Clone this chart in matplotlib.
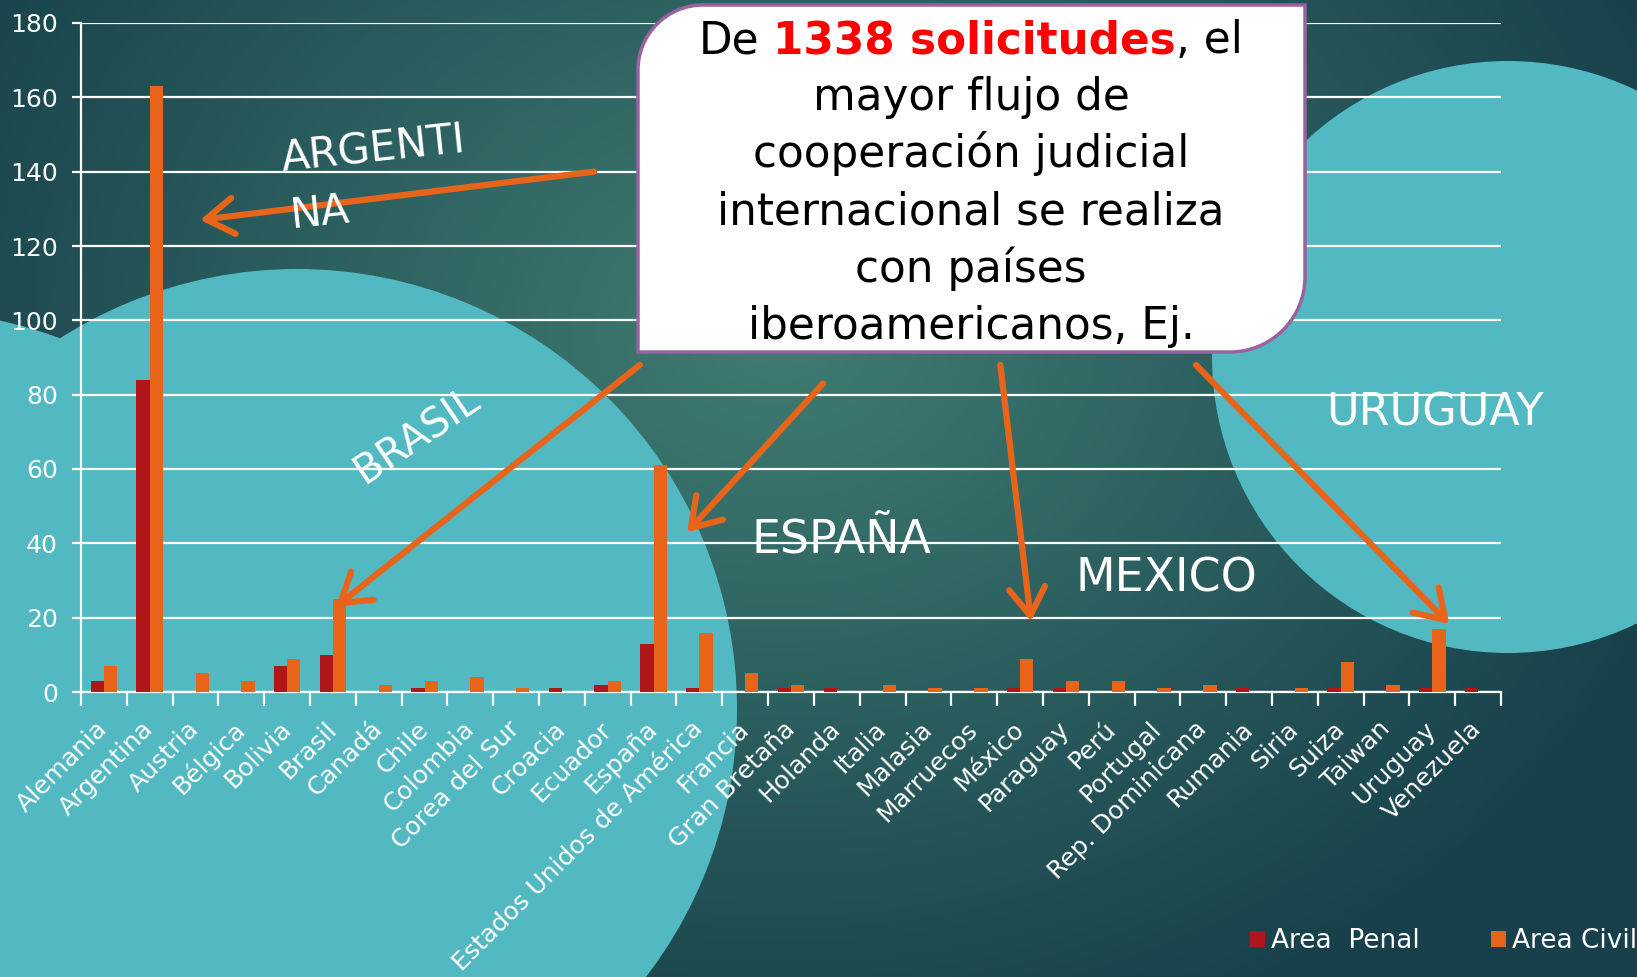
import numpy as np
import matplotlib
matplotlib.use('Agg')
import matplotlib.pyplot as plt
from matplotlib.patches import Circle, PathPatch
from matplotlib.path import Path

# Datos: solicitudes de cooperación judicial por país
paises = ['Alemania', 'Argentina', 'Austria', 'Bélgica', 'Bolivia', 'Brasil', 'Canadá',
          'Chile', 'Colombia', 'Corea del Sur', 'Croacia', 'Ecuador', 'España',
          'Estados Unidos de América', 'Francia', 'Gran Bretaña', 'Holanda', 'Italia',
          'Malasia', 'Marruecos', 'México', 'Paraguay', 'Perú', 'Portugal',
          'Rep. Dominicana', 'Rumania', 'Siria', 'Suiza', 'Taiwan', 'Uruguay', 'Venezuela']
area_penal = [3, 84, 0, 0, 7, 10, 0, 1, 0, 0, 1, 2, 13, 1, 0, 1, 1, 0, 0, 0,
              1, 1, 0, 0, 0, 1, 0, 1, 0, 1, 1]
area_civil = [7, 163, 5, 3, 9, 25, 2, 3, 4, 1, 0, 3, 61, 16, 5, 2, 0, 2, 1, 1,
              9, 3, 3, 1, 2, 0, 1, 8, 2, 17, 0]
marcas_y = list(range(0, 181, 20))

# Flechas: (x destino, y destino, x origen, y origen) en unidades del gráfico
flechas = [(2.1, 127, 10.7, 140), (5.07, 23, 11.7, 88), (12.73, 43, 15.7, 83),
           (20.24, 19, 19.57, 88), (29.37, 18.3, 23.84, 88)]

rojo = '#b01518'
naranja = '#e8641a'
cian = '#52b9c2'
plt.rcParams['font.family'] = ['DejaVu Sans']

W, H = 1637, 977
fig = plt.figure(figsize=(W / 100, H / 100), dpi=100)

# Fondo con degradado y círculos
fondo = fig.add_axes([0, 0, 1, 1], zorder=0)
yy, xx = np.mgrid[0:H, 0:W]
d = np.sqrt((xx - 780) ** 2 + ((yy - 330) / 0.8) ** 2) / 950
t = np.clip(d, 0, 1)[..., None]
claro = np.array([0x40, 0x7d, 0x72]) / 255
oscuro = np.array([0x17, 0x40, 0x4b]) / 255
fondo.imshow(claro * (1 - t) + oscuro * t, extent=(0, W, H, 0), aspect='auto')
for centro, radio in [((297, 709), 440), ((-111, 808), 500), ((1508, 357), 296)]:
    fondo.add_patch(Circle(centro, radio, color=cian, lw=0))
fondo.set_xlim(0, W)
fondo.set_ylim(H, 0)
fondo.axis('off')

# Gráfico de barras
ax = fig.add_axes([81 / W, 1 - 692 / H, (1501 - 81) / W, (692 - 23) / H], zorder=1)
ax.patch.set_alpha(0)
x = np.arange(len(paises))
ax.bar(x - 0.145, area_penal, 0.29, color=rojo, label='Area  Penal', zorder=3)
ax.bar(x + 0.145, area_civil, 0.29, color=naranja, label='Area Civil', zorder=3)
ax.set_xlim(-0.5, len(paises) - 0.5)
ax.set_ylim(0, 180)
ax.set_yticks(marcas_y)
ax.grid(axis='y', color='white', lw=1.6, zorder=2)
ax.set_xticks(np.arange(-0.5, len(paises), 1))
ax.set_xticks(x, minor=True)
ax.set_xticklabels(paises, minor=True, rotation=45, ha='right', va='center',
                   rotation_mode='anchor')
ax.tick_params(axis='x', which='major', length=10, width=1.6, color='white', labelbottom=False)
ax.tick_params(axis='x', which='minor', length=0, pad=24, labelcolor='white', labelsize=18)
ax.tick_params(axis='y', length=6.5, width=1.6, color='white', labelcolor='white',
               labelsize=18, pad=10)
for lado in ['top', 'right']:
    ax.spines[lado].set_visible(False)
for lado in ['left', 'bottom']:
    ax.spines[lado].set_color('white')
    ax.spines[lado].set_linewidth(1.6)

for xd, yd, xo, yo in flechas:
    ax.annotate('', xy=(xd, yd), xytext=(xo, yo),
                arrowprops=dict(arrowstyle='->,head_length=1.0,head_width=0.65', lw=4.5,
                                color=naranja, mutation_scale=20, shrinkA=0, shrinkB=0,
                                capstyle='round', joinstyle='round'), zorder=4)

fig.legend(loc='center left', bbox_to_anchor=(1250 / W, 1 - 941 / H), ncol=2, frameon=False,
           fontsize=19, labelcolor='white', handlelength=0.55, handleheight=0.55,
           handletextpad=0.25, columnspacing=2.7, borderpad=0, borderaxespad=0)

# Capa superior: textos y recuadro
ov = fig.add_axes([0, 0, 1, 1], zorder=5)
ov.set_xlim(0, W)
ov.set_ylim(H, 0)
ov.axis('off')
ov.patch.set_alpha(0)

ov.text(283, 172, 'ARGENTI', rotation=6, rotation_mode='anchor', ha='left', va='baseline',
        color='white', fontsize=30)
ov.text(292, 228, 'NA', rotation=6, rotation_mode='anchor', ha='left', va='baseline',
        color='white', fontsize=30)
ov.text(365, 485, 'BRASIL', rotation=34, rotation_mode='anchor', ha='left', va='baseline',
        color='white', fontsize=29)
ov.text(751, 553, 'ESPAÑA', ha='left', va='baseline', color='white', fontsize=33)
ov.text(1076, 592, 'MEXICO', ha='left', va='baseline', color='white', fontsize=33)
ov.text(1326, 425, 'URUGUAY', ha='left', va='baseline', color='white', fontsize=32)

# Recuadro con esquinas redondeadas en diagonal
izq, arr, der, aba, r1, r2 = 638, 5, 1305, 352, 65, 75
k = 0.5523
verts = [(izq, aba), (izq, arr + r1),
         (izq, arr + r1 * (1 - k)), (izq + r1 * (1 - k), arr), (izq + r1, arr),
         (der, arr), (der, aba - r2),
         (der, aba - r2 * (1 - k)), (der - r2 * (1 - k), aba), (der - r2, aba),
         (izq, aba), (izq, aba)]
codes = [Path.MOVETO, Path.LINETO, Path.CURVE4, Path.CURVE4, Path.CURVE4,
         Path.LINETO, Path.LINETO, Path.CURVE4, Path.CURVE4, Path.CURVE4,
         Path.LINETO, Path.CLOSEPOLY]
ov.add_patch(PathPatch(Path(verts, codes), facecolor='white', edgecolor='#9a62a2', lw=2.5))

cx = 971
tam = 31.5
renderer = fig.canvas.get_renderer()
trozos = [('De', 'black', 'normal'), ('1338 solicitudes', '#ff0000', 'bold'), (', el', 'black', 'normal')]
t1 = ov.text(0, 0, 'a a', fontsize=tam)
t2 = ov.text(0, 0, 'aa', fontsize=tam)
esp = t1.get_window_extent(renderer).width - t2.get_window_extent(renderer).width
t1.remove()
t2.remove()
textos = []
anchos = []
for s, col, peso in trozos:
    tt = ov.text(0, 53, s, color=col, fontweight=peso, fontsize=tam, ha='left', va='baseline')
    textos.append(tt)
    anchos.append(tt.get_window_extent(renderer).width)
total = sum(anchos) + esp
xpos = cx - total / 2
for i, tt in enumerate(textos):
    tt.set_x(xpos)
    xpos += anchos[i] + (esp if i == 0 else 0)

lineas = ['mayor flujo de', 'cooperación judicial', 'internacional se realiza',
          'con países', 'iberoamericanos, Ej.']
for i, s in enumerate(lineas):
    ov.text(cx, 53 + 57.2 * (i + 1), s, ha='center', va='baseline', color='black', fontsize=tam)

fig.savefig('out.png', dpi=100)
